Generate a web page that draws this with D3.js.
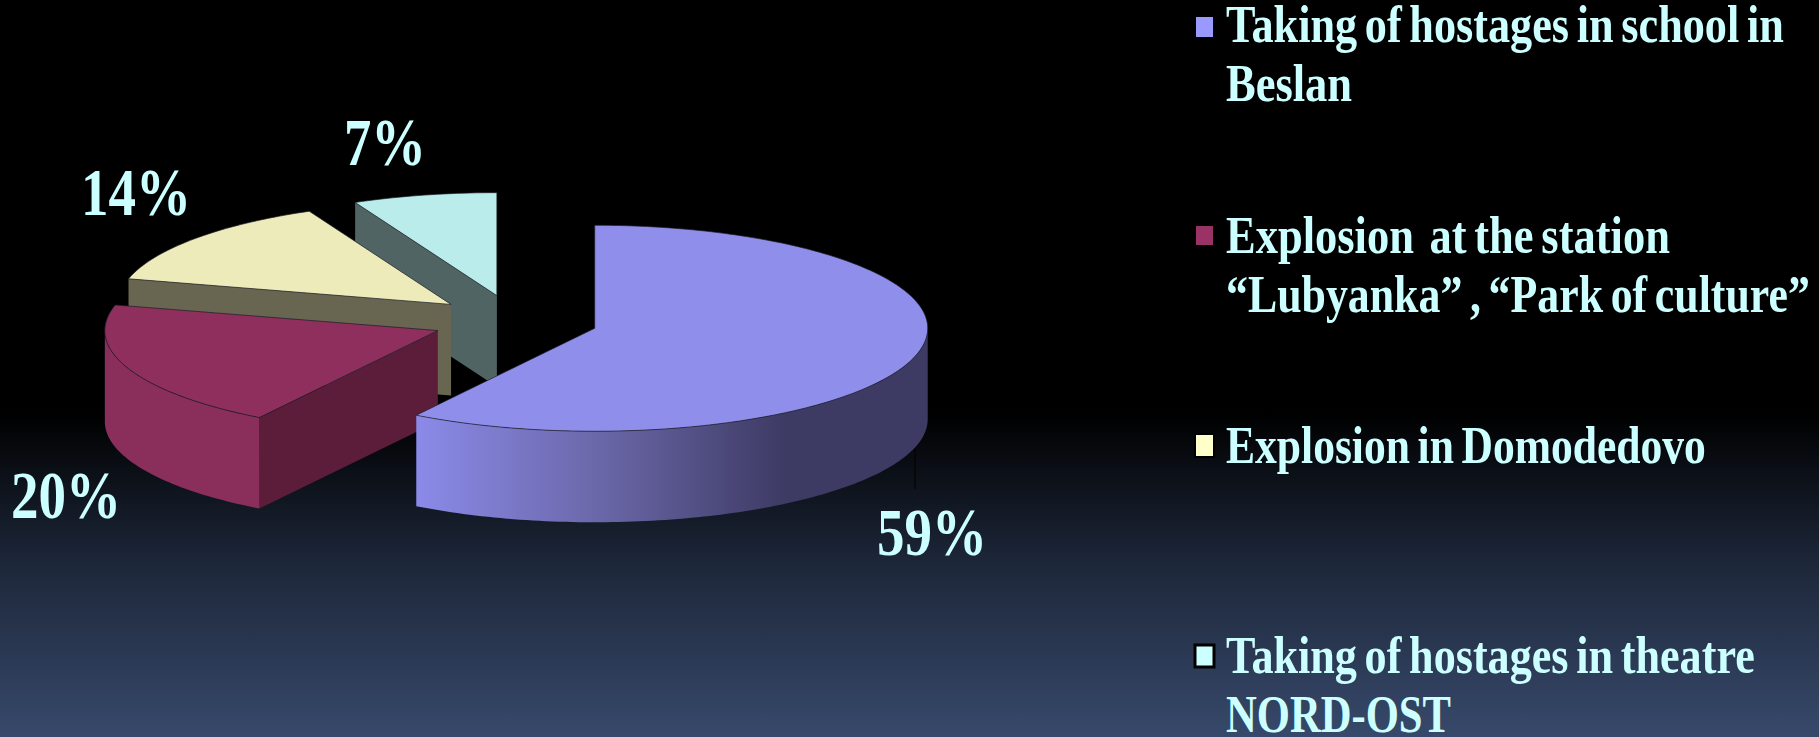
<!DOCTYPE html>
<html>
<head>
<meta charset="utf-8">
<script src="https://cdn.jsdelivr.net/npm/d3@7"></script>
<style>
html,body{margin:0;padding:0;background:#000;overflow:hidden}
svg{display:block}
text{font-family:"Liberation Serif","Times New Roman",serif;font-weight:bold;fill:#ccffff;white-space:pre}
</style>
</head>
<body>
<svg id="chart" width="1819" height="737"></svg>
<script>
// Share of victims per incident, in percent
const categories = ["Beslan", "Lubyanka", "Domodedovo", "Nord-Ost"];
const shares = [59, 20, 14, 7];
const shareLabels = ["59%", "20%", "14%", "7%"];
const topColors = ["#8f8eeb", "#8e2f5d", "#edebba", "#b9ecea"];
const cutColors = ["#3d3a64", "#5c1d3b", "#686650", "#506464"];
const wallColors = ["#3d3a64", "#8a2e5b", "#686650", "#506464"];
const legendColors = ["#9999ff", "#993366", "#ffffcc", "#ccffff"];
const legendLines = [
  ["Taking of hostages in school in", "Beslan"],
  ["Explosion  at the station", "“Lubyanka” , “Park of culture”"],
  ["Explosion in Domodedovo"],
  ["Taking of hostages in theatre", "NORD-OST"]
];

// Layout of the tilted pie
const pieCenter = {x: 515, y: 321};
const radius = {x: 333, y: 103};
const explode = {x: 83, y: 26};
const depth = 91;
const labelBoxes = [
  {x: 877, y: 555, w: 110}, {x: 11, y: 518, w: 110},
  {x: 81, y: 215, w: 110}, {x: 344, y: 165, w: 82}
];
const legendLayout = [
  {swatchY: 16, swatchH: 22, baselines: [42, 101], widths: [558, 126]},
  {swatchY: 225, swatchH: 21, baselines: [253, 312], widths: [444, 584]},
  {swatchY: 434, swatchH: 23, baselines: [463], widths: [480]},
  {swatchY: 645, swatchH: 22, baselines: [673, 732], widths: [529, 225]}
];

const svg = d3.select("#chart");
const defs = svg.append("defs");

// Night-sky backdrop: black down to mid-height, then fading to slate blue
const bg = defs.append("linearGradient").attr("id", "sky")
  .attr("x1", 0).attr("y1", 0).attr("x2", 0).attr("y2", 1);
[[0, "#000000"], [0.56, "#000000"], [0.76, "#1c2638"], [1, "#37496b"]].forEach(([o, c]) =>
  bg.append("stop").attr("offset", o).attr("stop-color", c));
svg.append("rect").attr("width", 1819).attr("height", 737).attr("fill", "url(#sky)");

// Shading along the outer wall of the largest slice
const wallShade = defs.append("linearGradient").attr("id", "wallShade")
  .attr("gradientUnits", "userSpaceOnUse")
  .attr("x1", 417).attr("y1", 0).attr("x2", 785).attr("y2", 0);
[[0, "#8b8ae8"], [0.5, "#6a67a8"], [1, "#3d3a64"]].forEach(([o, c]) =>
  wallShade.append("stop").attr("offset", o).attr("stop-color", c));

const slices = d3.pie().sort(null).value(d => d)(shares);
const line = d3.line();

// Ellipse point for a pie angle, measured clockwise from twelve o'clock
const rimPoint = (o, a, dy = 0) => [o.x + radius.x * Math.sin(a), o.y - radius.y * Math.cos(a) + dy];
const sampleAngles = (a0, a1) => {
  const n = Math.max(2, Math.ceil((a1 - a0) / 0.02));
  return d3.range(n + 1).map(i => a0 + (a1 - a0) * i / n);
};

// Back slices first so nearer ones overlap them
const order = slices.map((s, i) => i).reverse();
const g = svg.append("g");
order.forEach(i => {
  const s = slices[i];
  const mid = (s.startAngle + s.endAngle) / 2;
  const apex = {
    x: pieCenter.x + explode.x * Math.sin(mid),
    y: pieCenter.y - explode.y * Math.cos(mid)
  };
  const sl = g.append("g").attr("class", "slice").attr("data-category", categories[i]);

  // Cut face along the leading edge of the slice, hidden on the largest one
  if (i > 0) {
    const p = rimPoint(apex, s.startAngle);
    const q = [apex.x, apex.y];
    const pts = [p, q, [q[0], q[1] + depth], [p[0], p[1] + depth]];
    sl.append("path").attr("d", line(pts) + "Z").attr("fill", cutColors[i]);
  }

  // Outer wall, only where the rim faces the viewer
  const w0 = Math.max(s.startAngle, Math.PI / 2);
  const w1 = Math.min(s.endAngle, 3 * Math.PI / 2);
  if (w1 > w0) {
    const as = sampleAngles(w0, w1);
    const pts = as.map(a => rimPoint(apex, a)).concat(as.slice().reverse().map(a => rimPoint(apex, a, depth)));
    sl.append("path").attr("d", line(pts) + "Z")
      .attr("fill", i === 0 ? "url(#wallShade)" : wallColors[i]);
  }

  // Top face
  const as = sampleAngles(s.startAngle, s.endAngle);
  const top = [[apex.x, apex.y]].concat(as.map(a => rimPoint(apex, a)));
  sl.append("path").attr("d", line(top) + "Z")
    .attr("fill", topColors[i])
    .attr("stroke", "#1c1c28").attr("stroke-opacity", 0.7).attr("stroke-width", 1);
});

// Leader line under the largest slice's label
svg.append("line").attr("x1", 915).attr("x2", 915).attr("y1", 448).attr("y2", 489)
  .attr("stroke", "#000").attr("stroke-width", 1);

// Place a text at its baseline and condense it horizontally to a given width
function condensed(sel, x, y, width) {
  const natural = sel.node().getComputedTextLength();
  sel.attr("transform", `translate(${x},${y}) scale(${width / natural},1)`);
}

// Percent labels
const labels = svg.append("g");
shareLabels.forEach((t, i) => {
  const b = labelBoxes[i];
  condensed(labels.append("text").attr("font-size", 68).text(t), b.x, b.y, b.w);
});

// Legend
const legend = svg.append("g");
legendLines.forEach((lines, i) => {
  const lay = legendLayout[i];
  legend.append("rect").attr("x", 1195).attr("y", lay.swatchY)
    .attr("width", 19).attr("height", lay.swatchH)
    .attr("fill", legendColors[i]).attr("stroke", "#000").attr("stroke-width", i === 3 ? 3 : 2);
  lines.forEach((t, j) => {
    const el = legend.append("text").attr("font-size", 53)
      .attr("word-spacing", -4).text(t);
    condensed(el, 1226, lay.baselines[j], lay.widths[j]);
  });
});
</script>
</body>
</html>
